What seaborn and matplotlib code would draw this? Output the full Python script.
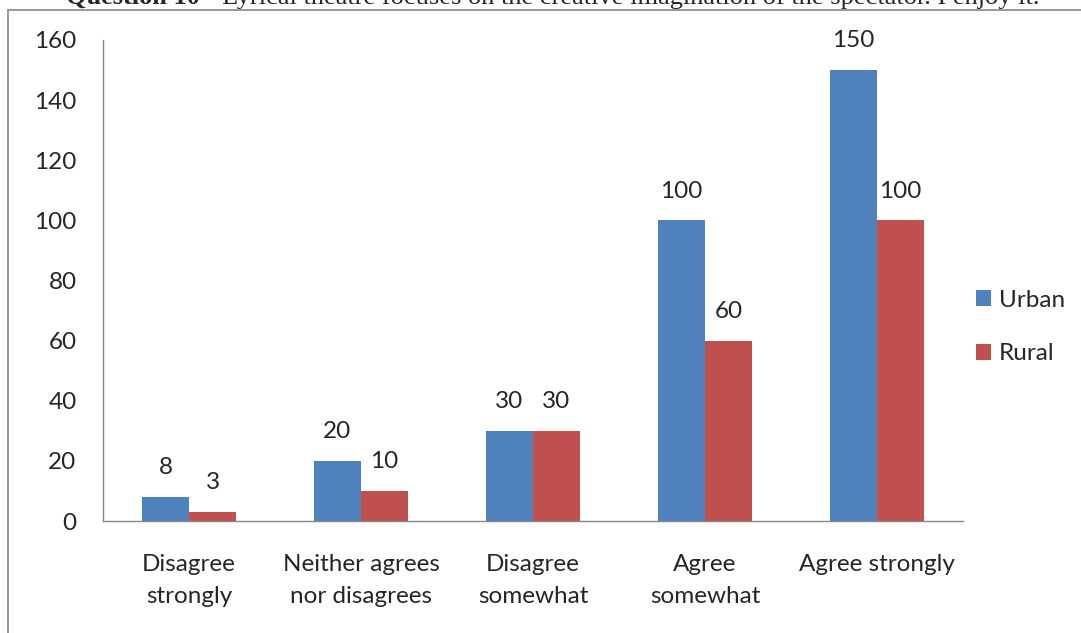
import matplotlib
matplotlib.use("Agg")
import matplotlib.pyplot as plt
from matplotlib.patches import Rectangle
import seaborn as sns
import pandas as pd

categories = ["Disagree\nstrongly", "Neither agrees\nnor disagrees", "Disagree\nsomewhat",
              "Agree\nsomewhat", "Agree strongly"]
urban = [8, 20, 30, 100, 150]
rural = [3, 10, 30, 60, 100]
series = ["Urban", "Rural"]
colors = ["#4F81BD", "#C0504D"]
yticks = [0, 20, 40, 60, 80, 100, 120, 140, 160]

df = pd.DataFrame({
    "category": categories * 2,
    "value": urban + rural,
    "area": ["Urban"] * len(categories) + ["Rural"] * len(categories),
})

sns.set_style("white")
plt.rcParams["font.family"] = ["Lato", "DejaVu Sans"]
FS = 17.5

W, H = 1081, 633
fig = plt.figure(figsize=(W / 100, H / 100), dpi=100)
ax = fig.add_axes([103 / W, 1 - 521 / H, (963 - 103) / W, (521 - 40) / H])

sns.barplot(data=df, x="category", y="value", hue="area", hue_order=series,
            palette=colors, width=0.547, saturation=1, linewidth=0,
            ax=ax, legend=True)

ax.set_ylim(0, 160)
ax.set_xlim(-0.5, len(categories) - 0.5)
ax.set_yticks(yticks)
ax.set_yticklabels([str(t) for t in yticks], fontsize=FS)
ax.set_xlabel("")
ax.set_ylabel("")

# category labels on minor ticks, boundary marks on major ticks
ax.set_xticks([i - 0.5 for i in range(len(categories) + 1)])
ax.set_xticklabels([])
ax.set_xticks(range(len(categories)), minor=True)
ax.set_xticklabels(categories, minor=True, fontsize=FS, linespacing=1.6)
ax.tick_params(axis="x", which="minor", length=0, pad=24)
ax.tick_params(axis="x", which="major", length=8, width=1, color="#868686", direction="out")
ax.tick_params(axis="y", length=7, width=1, color="#868686", direction="out", pad=12)

for side in ["top", "right"]:
    ax.spines[side].set_visible(False)
for side in ["left", "bottom"]:
    ax.spines[side].set_color("#868686")
    ax.spines[side].set_linewidth(1)

for container in ax.containers:
    for bar in container:
        h = bar.get_height()
        ax.annotate(f"{h:g}", (bar.get_x() + bar.get_width() / 2, h),
                    xytext=(0, 21), textcoords="offset points",
                    ha="center", va="center", fontsize=FS)

leg = ax.legend(loc="center left", bbox_to_anchor=(976 / W, 1 - 327 / H),
                bbox_transform=fig.transFigure, frameon=False, fontsize=FS,
                handlelength=0.6, handleheight=0.6, handletextpad=0.35,
                labelspacing=1.35, borderpad=0, borderaxespad=0)

# outer chart frame
fig.patches.append(Rectangle((8 / W, -0.1), 1.2, 1 - 10 / H + 0.1,
                             transform=fig.transFigure, fill=False,
                             edgecolor="#868686", linewidth=1.2))

serif = ["Liberation Serif", "DejaVu Serif"]
t1 = fig.text(66 / W, 1 - 4 / H, "Question 10", ha="left", va="baseline",
              fontsize=19, fontweight="bold", family=serif)
fig.canvas.draw()
bb = t1.get_window_extent()
fig.text(bb.x1 / W, 1 - 4 / H,
         " - Lyrical theatre focuses on the creative imagination of the spectator. I enjoy it.",
         ha="left", va="baseline", fontsize=19, family=serif)

fig.savefig("out.png", dpi=100)
